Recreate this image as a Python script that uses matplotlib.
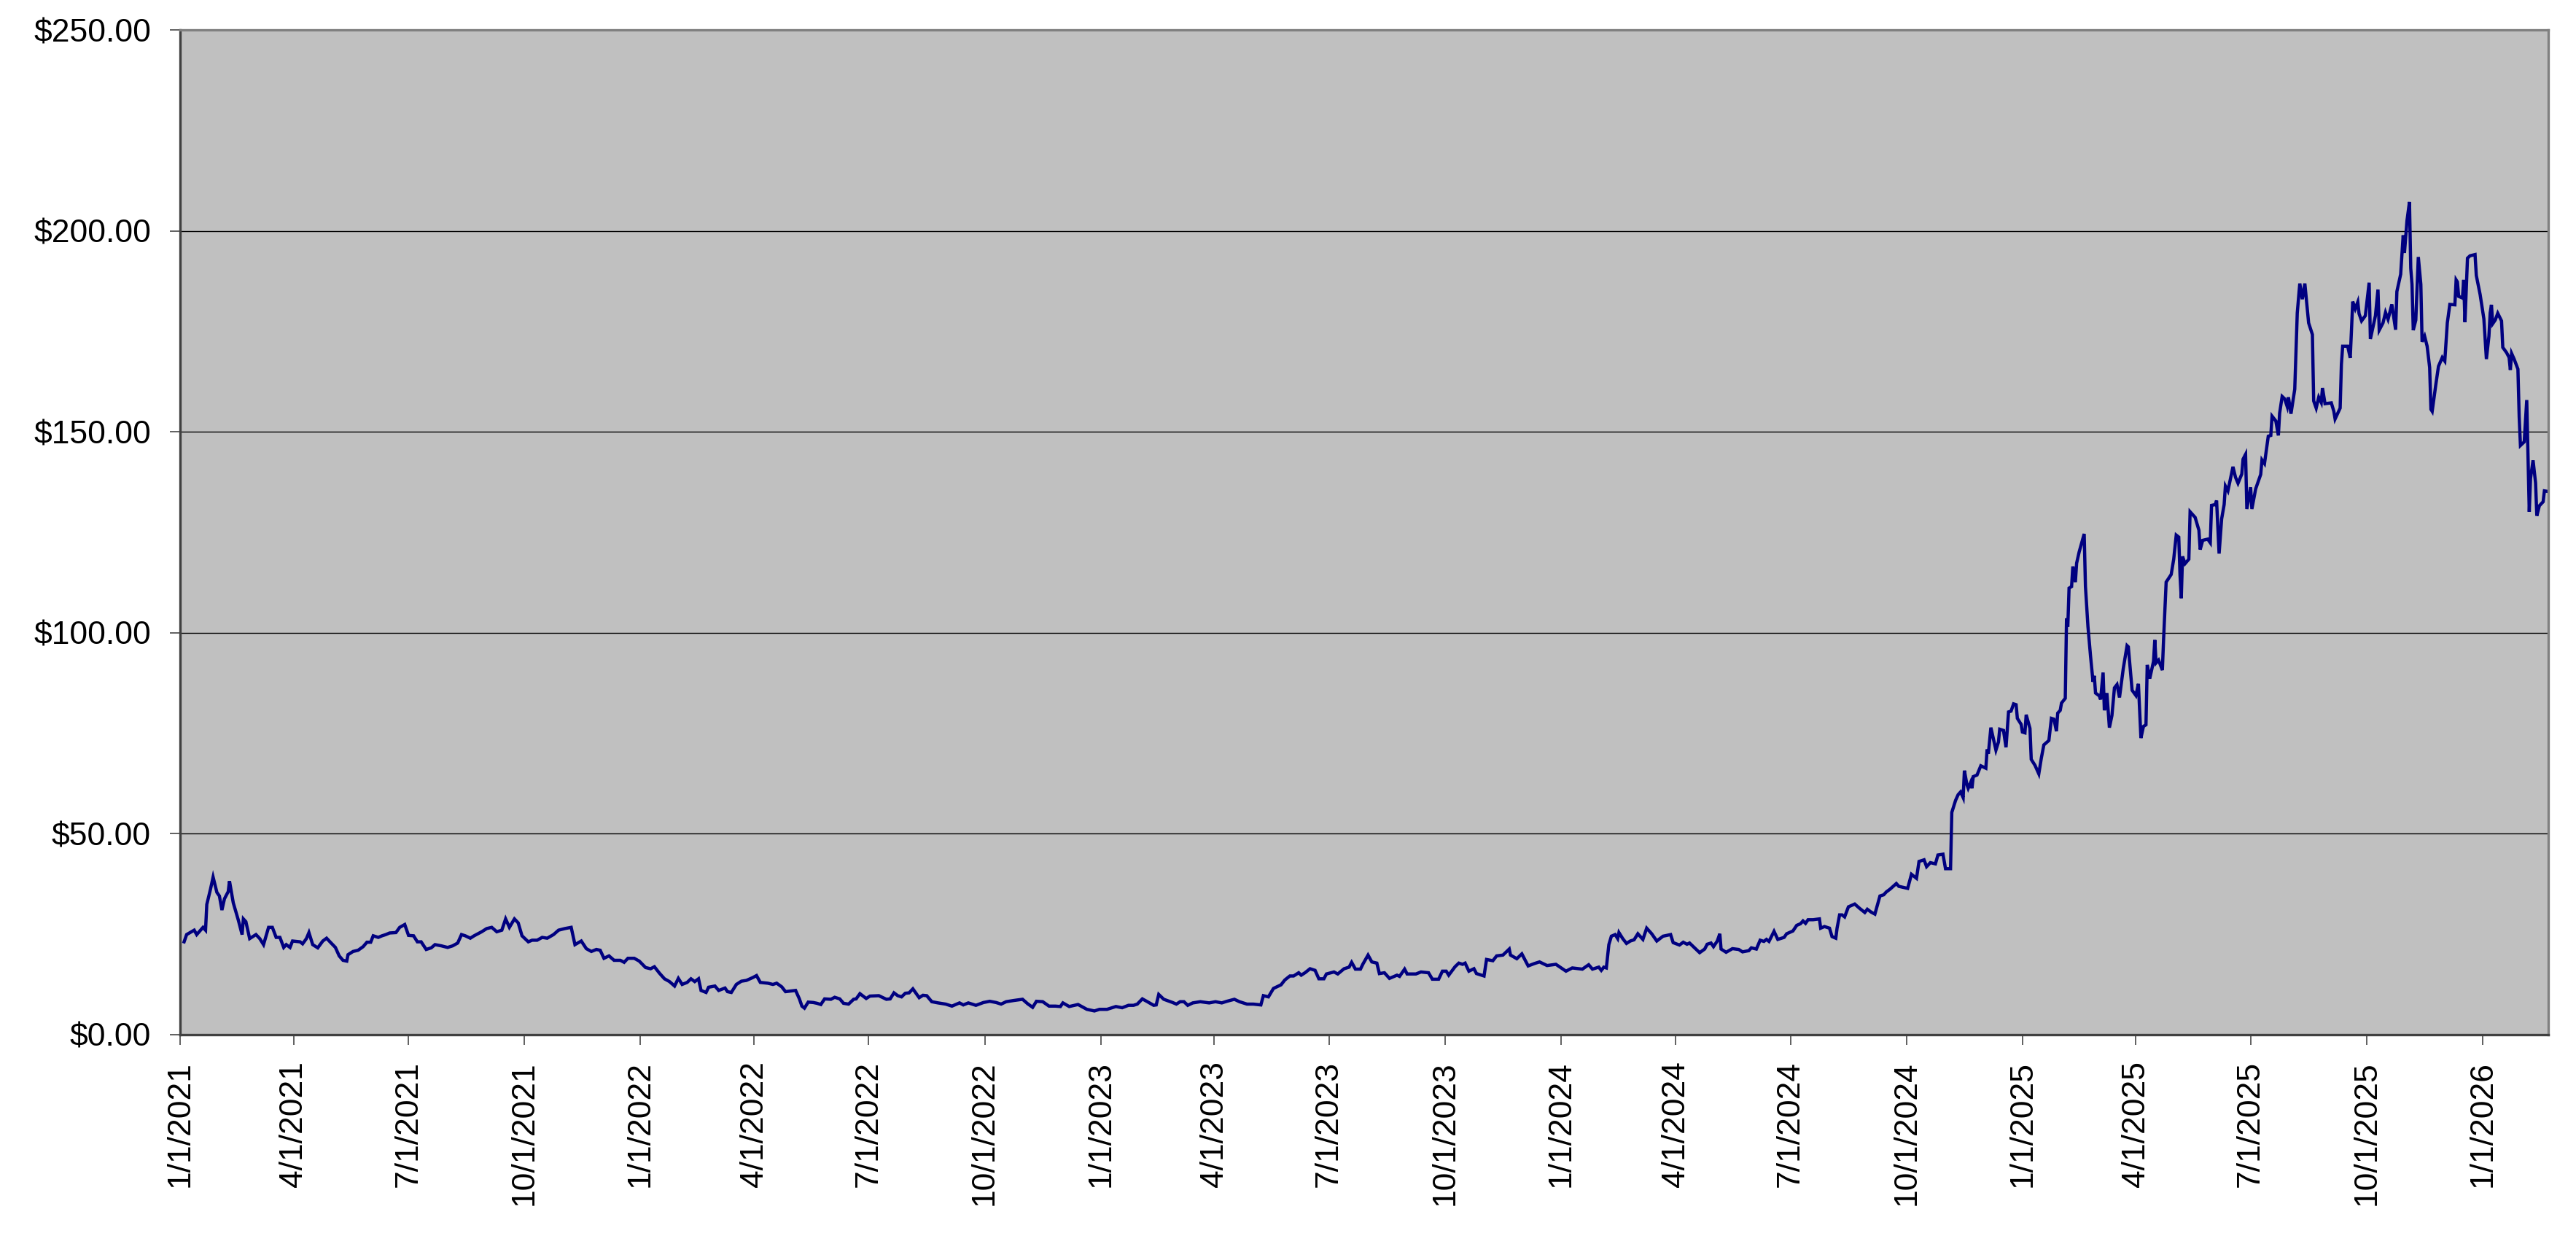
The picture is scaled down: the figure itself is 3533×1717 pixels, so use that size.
import datetime as dt
import numpy as np
import matplotlib.pyplot as plt
import matplotlib.dates as mdates
from matplotlib.ticker import FuncFormatter

plt.rcParams['font.family'] = ['Liberation Sans', 'DejaVu Sans']

start = dt.date(2021, 1, 1)
end_day = 1878  # right edge of the plot, days after start

# days after 1/1/2021 and closing price
days = [
    # 2021 - mid 2022
    3, 5, 11, 13, 18, 20, 21, 24, 26, 29,
    31, 33, 35, 38, 39, 42, 46, 49, 50, 52,
    55, 60, 63, 66, 70, 73, 76, 79, 82, 84,
    87, 89, 95, 97, 100, 102, 105, 109, 113, 116,
    119, 123, 126, 129, 132, 133, 137, 141, 145, 148,
    151, 153, 157, 160, 163, 166, 171, 174, 178, 181,
    185, 188, 191, 195, 199, 202, 207, 212, 216, 220,
    223, 226, 230, 233, 236, 239, 243, 247, 251, 255,
    258, 261, 265, 268, 271, 276, 279, 283, 287, 291,
    296, 300, 305, 310, 313, 318, 322, 326, 330, 333,
    336, 340, 344, 349, 352, 355, 360, 364, 369, 373,
    376, 380, 384, 388, 392, 395, 398, 402, 405, 408,
    411, 413, 417, 419, 424, 427, 432, 434, 437, 441,
    445, 449, 454, 457, 460, 466, 470, 473, 477, 480,
    485, 488, 491, 493, 495, 498, 502, 505, 508, 511,
    516, 519, 523, 526, 530, 534, 536, 539, 544, 547,
    # mid 2022 - mid 2023
    554, 560, 563, 566, 569, 572, 575, 578, 581, 586,
    589, 592, 596, 601, 607, 612, 618, 621, 625, 631,
    637, 642, 647, 651, 655, 661, 668, 672, 676, 679,
    684, 689, 694, 698, 700, 705, 712, 719, 725, 729,
    735, 742, 747, 752, 756, 759, 763, 767, 772, 774,
    776, 780, 787, 790, 793, 796, 799, 803, 809, 816,
    821, 826, 830, 836, 840, 846, 851, 857, 859, 863,
    867,
    # mid 2023 - spring 2024
    873, 876, 880, 883, 887, 889, 892, 896, 900, 903,
    907, 909, 915, 918, 923, 927, 929, 932, 936, 938,
    942, 945, 949, 951, 955, 959, 965, 967, 971, 973,
    980, 984, 990, 993, 998, 1001, 1004, 1006, 1011, 1014,
    1017, 1019, 1022, 1026, 1028, 1034, 1036, 1041, 1044, 1049,
    1054, 1055, 1060, 1064, 1069, 1074, 1078, 1084, 1091, 1099,
    1104, 1112, 1117, 1120, 1125, 1127, 1129, 1131, 1133, 1135,
    1138, 1140, 1141, 1144, 1147, 1150, 1153, 1156, 1160, 1163,
    1167, 1171, 1176, 1182, 1184,
    # spring 2024 - end 2024
    1189, 1192, 1195, 1197, 1200, 1205, 1209, 1211, 1214, 1216,
    1219, 1221, 1222, 1226, 1231, 1236, 1239, 1244, 1246, 1250,
    1253, 1256, 1258, 1260, 1264, 1267, 1272, 1274, 1279, 1282,
    1285, 1287, 1289, 1291, 1295, 1300, 1301, 1304, 1308, 1310,
    1313, 1314, 1316, 1318, 1320, 1323, 1328, 1332, 1336, 1338,
    1341, 1344, 1348, 1351, 1353, 1356, 1361, 1363, 1370, 1373,
    1377, 1379, 1383, 1385, 1388, 1392, 1394, 1398, 1400, 1404,
    1405, 1408, 1410, 1412, 1414, 1415, 1417,
    # end 2024 - mid 2025
    1418, 1420, 1421, 1422, 1425, 1428, 1432, 1433, 1434, 1436,
    1440, 1442, 1443, 1446, 1448, 1450, 1452, 1454, 1456, 1457,
    1460, 1461, 1463, 1464, 1467, 1468, 1471, 1474, 1476, 1478,
    1482, 1484, 1486, 1488, 1489, 1491, 1492, 1495, 1496, 1497,
    1498, 1500, 1501, 1503, 1504, 1506, 1510, 1511, 1513, 1515,
    1517, 1518, 1519, 1522, 1523, 1525, 1526, 1528, 1530, 1532,
    1534, 1536, 1538, 1541, 1544, 1545, 1548, 1551, 1553, 1555,
    1557, 1559, 1560, 1562, 1565, 1566, 1567, 1569, 1572, 1573,
    1575, 1579, 1581, 1583, 1585, 1586, 1587, 1588, 1590, 1593,
    1594, 1596, 1598, 1601, 1602, 1604, 1608, 1610, 1611, 1614,
    1615, 1617, 1619, 1621, 1622, 1624, 1628, 1630, 1632, 1635,
    1636,
    # mid 2025 - late 2025
    1638, 1639, 1642, 1643, 1646, 1650, 1651, 1653, 1656, 1658,
    1659, 1662, 1664, 1665, 1667, 1669, 1671, 1672, 1674, 1677,
    1679, 1681, 1683, 1685, 1688, 1691, 1692, 1694, 1696, 1698,
    1699, 1701, 1706, 1708, 1709, 1713, 1714, 1715, 1719, 1721,
    1723, 1725, 1727, 1728, 1730, 1733, 1736, 1737, 1741, 1743,
    1744, 1747, 1749, 1751, 1754, 1757, 1758,
    # late 2025 - 2026
    1761, 1763, 1764, 1766, 1768, 1769, 1770, 1771, 1773, 1775,
    1777, 1778, 1780, 1782, 1784, 1785, 1786, 1789, 1791, 1794,
    1796, 1798, 1800, 1804, 1805, 1806, 1807, 1810, 1811, 1812,
    1814, 1816, 1820, 1821, 1824, 1827, 1829, 1831, 1832, 1833,
    1834, 1836, 1838, 1841, 1842, 1845, 1847, 1848, 1849, 1851,
    1854, 1855, 1856, 1859, 1861, 1863, 1864, 1866, 1868, 1869,
    1871, 1874, 1875, 1877,
]

price = [
    # 2021 - mid 2022
    23.1, 24.9, 26.0, 24.9, 26.7, 26.0, 32.4, 36.3, 39.2, 35.4,
    34.5, 31.0, 33.8, 35.6, 38.2, 32.8, 28.5, 24.9, 28.8, 28.1,
    23.9, 24.9, 23.9, 22.4, 26.7, 26.7, 24.2, 24.2, 21.7, 22.4,
    21.7, 23.3, 23.1, 22.6, 23.9, 25.4, 22.4, 21.6, 23.3, 24.0,
    23.0, 21.7, 19.6, 18.5, 18.3, 19.9, 20.7, 21.0, 21.9, 23.0,
    23.0, 24.6, 24.2, 24.6, 24.9, 25.3, 25.4, 26.7, 27.4, 24.7,
    24.6, 23.1, 23.1, 21.2, 21.6, 22.4, 22.1, 21.7, 22.1, 22.8,
    24.9, 24.6, 24.0, 24.6, 25.1, 25.6, 26.4, 26.7, 25.6, 26.0,
    28.8, 26.7, 28.8, 27.8, 24.6, 23.1, 23.5, 23.5, 24.2, 24.0,
    24.9, 26.0, 26.4, 26.7, 22.4, 23.3, 21.4, 20.7, 21.2, 21.0,
    19.0, 19.6, 18.5, 18.5, 18.0, 19.0, 19.0, 18.3, 16.7, 16.4,
    16.9, 15.3, 13.9, 13.2, 12.1, 14.0, 12.5, 13.0, 13.9, 13.2,
    13.9, 11.0, 10.5, 11.8, 12.1, 11.0, 11.6, 10.7, 10.5, 12.5,
    13.3, 13.5, 14.2, 14.7, 13.0, 12.8, 12.5, 12.8, 11.9, 10.7,
    10.9, 11.0, 8.9, 7.1, 6.6, 8.1, 8.0, 7.8, 7.5, 8.9,
    8.8, 9.3, 8.9, 7.8, 7.6, 8.8, 8.9, 10.2, 9.0, 9.6,
    # mid 2022 - mid 2023
    9.7, 8.8, 8.9, 10.4, 9.7, 9.4, 10.3, 10.4, 11.4, 9.2,
    9.8, 9.7, 8.2, 7.9, 7.6, 7.1, 7.9, 7.4, 7.9, 7.3,
    8.0, 8.3, 8.0, 7.6, 8.2, 8.5, 8.8, 7.7, 6.8, 8.3,
    8.2, 7.1, 7.1, 7.0, 7.9, 7.0, 7.5, 6.3, 5.9, 6.3,
    6.3, 7.0, 6.7, 7.3, 7.3, 7.6, 8.9, 8.2, 7.3, 7.4,
    10.0, 8.8, 8.0, 7.6, 8.2, 8.2, 7.3, 7.9, 8.2, 7.9,
    8.2, 7.9, 8.3, 8.8, 8.2, 7.6, 7.6, 7.4, 9.7, 9.4,
    11.5,
    # mid 2023 - spring 2024
    12.4, 13.6, 14.6, 14.6, 15.4, 14.8, 15.4, 16.4, 16.0, 13.9,
    13.9, 15.1, 15.6, 15.1, 16.4, 16.8, 18.0, 16.3, 16.3, 17.6,
    19.8, 18.1, 17.8, 15.2, 15.4, 14.0, 14.8, 14.5, 16.3, 15.1,
    15.1, 15.6, 15.4, 13.8, 13.8, 15.8, 15.8, 14.8, 16.9, 17.8,
    17.5, 17.8, 15.8, 16.4, 15.2, 14.6, 18.7, 18.4, 19.6, 19.8,
    21.3, 19.8, 18.9, 20.1, 17.1, 17.7, 18.1, 17.2, 17.5, 15.8,
    16.6, 16.3, 17.4, 16.3, 16.8, 16.0, 16.8, 16.6, 22.4, 24.5,
    24.9, 23.9, 25.4, 23.9, 22.7, 23.3, 23.6, 25.1, 23.7, 26.5,
    25.1, 23.3, 24.5, 24.9, 22.9,
    # spring 2024 - end 2024
    22.3, 23.0, 22.5, 22.8, 21.9, 20.4, 21.3, 22.5, 22.8, 21.9,
    23.3, 25.1, 21.3, 20.5, 21.4, 21.2, 20.6, 20.9, 21.6, 21.3,
    23.5, 23.2, 23.7, 23.2, 25.7, 23.7, 24.2, 25.1, 25.8, 27.2,
    27.6, 28.3, 27.7, 28.6, 28.6, 28.8, 26.5, 26.9, 26.5, 24.4,
    24.0, 26.5, 29.8, 29.8, 29.3, 31.8, 32.5, 31.4, 30.4, 31.2,
    30.5, 30.0, 34.5, 34.8, 35.5, 36.2, 37.6, 36.9, 36.4, 39.9,
    38.9, 43.1, 43.5, 41.8, 42.8, 42.5, 44.7, 44.9, 41.3, 41.3,
    55.3, 58.3, 59.7, 60.4, 59.0, 65.7, 62.2,
    # end 2024 - mid 2025
    61.3, 62.8, 61.3, 64.2, 64.6, 66.9, 66.3, 71.0, 69.9, 76.4,
    70.8, 72.8, 76.0, 75.7, 71.5, 80.3, 80.5, 82.3, 82.1, 78.7,
    77.2, 75.3, 75.1, 79.6, 76.2, 68.5, 67.0, 64.9, 68.8, 72.1,
    73.2, 78.7, 78.5, 75.5, 80.0, 80.7, 82.5, 83.7, 103.6, 101.5,
    111.1, 111.5, 116.5, 112.6, 117.3, 120.1, 124.6, 111.5, 101.5, 94.3,
    87.8, 89.3, 85.0, 84.3, 83.4, 90.1, 80.7, 85.0, 76.4, 79.4,
    86.3, 87.1, 83.9, 91.1, 96.8, 96.5, 85.7, 84.4, 87.3, 73.8,
    76.7, 77.1, 92.0, 88.6, 92.9, 98.2, 92.5, 93.2, 90.7, 98.6,
    112.6, 114.5, 118.3, 124.3, 123.8, 114.4, 108.6, 119.0, 117.2, 118.3,
    130.1, 129.4, 128.7, 125.5, 120.7, 123.0, 123.3, 122.4, 131.7, 131.9,
    132.9, 119.7, 128.3, 131.9, 136.5, 135.3, 141.3, 138.7, 137.2, 139.5,
    143.2,
    # mid 2025 - late 2025
    144.4, 130.8, 136.2, 130.8, 135.8, 139.4, 143.0, 142.1, 148.9, 149.1,
    153.9, 152.7, 149.1, 154.6, 158.8, 158.2, 156.3, 158.6, 154.5, 160.6,
    179.6, 186.9, 183.0, 186.9, 177.1, 174.2, 157.7, 155.9, 158.6, 157.3,
    160.9, 157.0, 157.2, 155.1, 153.2, 155.9, 166.8, 171.3, 171.3, 168.4,
    182.4, 180.6, 182.3, 179.4, 177.6, 178.9, 187.1, 173.1, 178.9, 185.4,
    175.3, 177.1, 179.7, 178.0, 181.7, 175.4, 184.9,
    # late 2025 - 2026
    189.2, 198.9, 194.5, 202.5, 207.2, 190.7, 186.7, 175.3, 177.8, 193.5,
    186.7, 172.4, 173.8, 171.3, 166.0, 155.6, 155.1, 162.0, 166.3, 168.5,
    167.6, 177.1, 181.7, 181.6, 187.8, 187.3, 183.7, 183.3, 187.8, 177.3,
    193.2, 193.8, 194.1, 188.9, 184.2, 178.1, 168.1, 173.8, 179.6, 181.6,
    176.9, 177.8, 179.5, 177.6, 171.0, 169.7, 168.5, 165.4, 169.5, 168.1,
    165.6, 153.8, 146.6, 147.5, 157.9, 130.1, 138.4, 142.9, 137.3, 129.1,
    131.6, 132.6, 135.3, 135.2,
]

tick_labels = [
    '1/1/2021', '4/1/2021', '7/1/2021', '10/1/2021',
    '1/1/2022', '4/1/2022', '7/1/2022', '10/1/2022',
    '1/1/2023', '4/1/2023', '7/1/2023', '10/1/2023',
    '1/1/2024', '4/1/2024', '7/1/2024', '10/1/2024',
    '1/1/2025', '4/1/2025', '7/1/2025', '10/1/2025',
    '1/1/2026',
]
y_ticks = [0, 50, 100, 150, 200, 250]

assert len(days) == len(price)

x0 = mdates.date2num(start)
x = x0 + np.array(days, dtype=float)
tick_pos = [mdates.date2num(dt.datetime.strptime(s, '%m/%d/%Y')) for s in tick_labels]

fig = plt.figure(figsize=(35.33, 17.17), dpi=100)
ax = fig.add_axes([0.0700, 0.1736, 0.9192, 0.8025])
ax.set_facecolor('#c0c0c0')

ax.plot(x, price, color='#000080', linewidth=3.2, solid_joinstyle='miter')

ax.set_xlim(x0, x0 + end_day)
ax.set_ylim(0, 250)
ax.set_yticks(y_ticks)
ax.yaxis.set_major_formatter(FuncFormatter(lambda v, p: f'${v:,.2f}'))
ax.set_xticks(tick_pos)
ax.set_xticklabels(tick_labels, rotation=90)

ax.grid(axis='y', color='#000000', linewidth=1.0)
ax.set_axisbelow(True)
for side in ax.spines.values():
    side.set_color('#808080')
    side.set_linewidth(2.4)
ax.spines['left'].set_color('#404040')
ax.spines['bottom'].set_color('#404040')

ax.tick_params(axis='y', length=10, width=1.4, color='#606060', pad=19, labelsize=32)
ax.tick_params(axis='x', length=10, width=1.4, color='#606060', pad=16, labelsize=32)

fig.savefig('out.png', dpi=100, facecolor='white')
